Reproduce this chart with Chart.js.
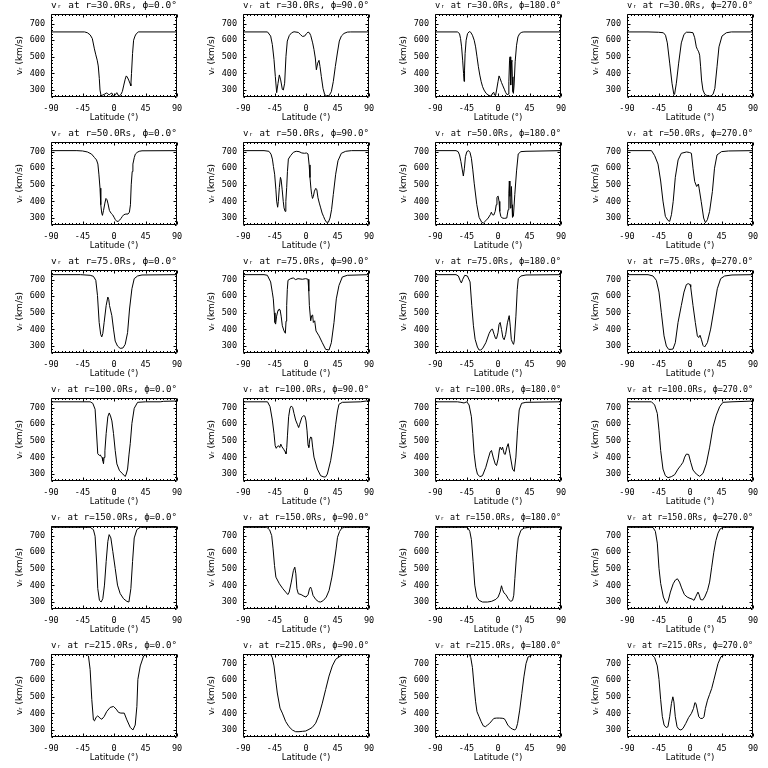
<!DOCTYPE html>
<html><head><meta charset="utf-8">
<script src="https://cdn.jsdelivr.net/npm/chart.js@4"></script>
<style>
html,body{margin:0;padding:0;background:#fff;width:768px;height:768px;overflow:hidden}
#wrap{position:relative;width:768px;height:768px;background:#fff}
canvas{position:absolute}
</style></head><body><div id="wrap"></div>
<script>
// ---- labels / ticks ----
const radii = [30, 50, 75, 100, 150, 215];
const phis = [0, 90, 180, 270];
const xTicks = [-90, -45, 0, 45, 90];
const yTicks = [300, 400, 500, 600, 700];
const yMin = 258, yMax = 758;

// ---- r = 30 Rs ----
const lat_r30_p0 = [-90,-42,-38,-34,-31,-28,-26,-24,-22.5,-21,-20,-18.5,-16,-13,-11,-9,-7,-5,-3,-1.5,0,2,4,6,8,10,12,14,16,17.5,19,21,23,24,25,26.5,28,30,32,35,90];
const v_r30_p0   = [650,650,645,632,610,548,512,480,445,370,300,266,270,276,282,279,270,278,282,266,263,272,284,268,266,274,292,330,365,385,378,360,338,325,400,520,600,625,640,650,650];
const lat_r30_p90 = [-90,-55,-50.5,-48.1,-45.7,-43.8,-41.9,-40,-38.1,-36.2,-33.8,-32.4,-30.5,-28.6,-26.7,-23.8,-20.5,-17.1,-11,-7.6,-5.2,-1.9,0.5,2.9,4.8,6.7,9.5,11.4,13.3,14.8,16.7,18.6,20,21.9,24.3,26.7,29.5,32.9,36.2,39,41.9,44.8,47.6,50.5,54.3,59,63.8,90];
const v_r30_p90   = [650,650,625,574,483,381,284,340,391,361,304,300,341,503,595,629,645,651,647,633,623,625,639,649,645,629,584,544,493,422,462,479,442,381,310,272,265,265,290,351,442,523,595,625,641,649,650,650];
const lat_r30_p180 = [-90,-58,-55,-53.5,-52,-50.5,-49.2,-48.5,-47.8,-47,-45.5,-43.5,-41,-39,-36.5,-34,-32,-30,-28,-26,-24,-22,-20,-17,-14,-11,-9,-7.5,-6,-5,-3.5,-2,0,1.5,3,5,7,9,11,13,14.5,15.5,16.5,17.2,17.8,18.5,19.3,19.8,20.5,21.3,22,23,24.5,26.5,28.5,31,34,37,90];
const v_r30_p180   = [650,650,640,610,560,480,400,352,420,520,600,640,652,648,630,600,560,500,440,390,350,320,300,280,270,264,270,282,286,270,267,300,350,385,370,345,325,305,285,272,275,350,480,500,420,330,470,480,380,290,280,330,470,570,620,640,648,650,650];
const lat_r30_p270 = [-90,-60,-45,-38,-35,-32.4,-29,-25.7,-23,-22,-19.5,-16.2,-12.4,-8.6,-5.2,0,4.3,6.7,9,10.5,12.4,13.8,15.2,16.5,18.5,21,24,27,30,33,35.5,38.6,41.4,45.7,51.9,59,90];
const v_r30_p270   = [650,650,648,645,630,584,462,341,272,275,341,462,584,635,648,648,645,615,560,545,530,510,440,360,300,275,267,263,264,275,310,440,560,625,645,650,650];

// ---- r = 50 Rs ----
const lat_r50_p0 = [-90,-53,-45,-38,-32,-28,-25,-23,-21.5,-20,-18.9,-17.5,-16.5,-15,-13,-11.5,-10,-8.5,-6.5,-4,-2,0,2,4,6,8,10,12,14,17,20,22,23.5,24.6,26,27,29,30.5,33,36,40,90];
const v_r50_p0   = [706,706,704,698,685,665,650,625,560,480,380,330,316,345,390,418,410,385,345,328,320,305,290,280,280,287,298,310,320,324,324,335,380,500,580,625,665,685,695,702,705,706];
const lat_r50_p90 = [-90,-60,-53,-50,-48,-46.5,-44.8,-43,-41.9,-40.5,-39.5,-38.1,-36.5,-35.5,-34,-32.5,-31.4,-29.8,-28.8,-27.6,-26.5,-25.2,-22,-18,-14,-10,-6,-2,0.5,2.9,4.5,5.7,7,8.1,9.3,10.5,12,14,15.5,17.1,19,21,23,25,27,29.5,32,34.3,36.5,39,42.4,45.7,50.5,56.7,65,90];
const v_r50_p90   = [706,706,702,685,655,610,564,470,402,365,400,483,545,530,470,400,361,340,400,483,580,655,676,696,702,700,692,690,692,686,620,544,480,442,418,430,462,479,470,422,390,361,330,310,290,274,275,300,350,442,564,645,690,702,706,706];
const lat_r50_p180 = [-90,-60,-57,-55,-53,-51,-49.5,-48,-46.5,-44.5,-42,-40,-38,-36,-34,-30.3,-27,-23.2,-20.8,-17.4,-14,-11,-9.5,-8,-6,-4,-2.5,-1.5,0.2,1.5,2.5,4,6,9,12.5,14.5,15.5,16.2,17,17.6,18.5,19.2,20,20.7,22,24,26.5,28.9,32.7,40,90];
const v_r50_p180   = [706,706,700,680,640,590,553,600,670,700,706,695,660,590,510,381,304,274,270,284,300,320,335,320,318,340,380,425,432,400,340,310,300,298,300,350,450,523,430,360,420,490,380,305,310,442,584,686,700,702,706];
const lat_r50_p270 = [-90,-55,-50.5,-45.7,-41.9,-38.6,-35.2,-31.4,-29,-26.5,-24,-21,-17,-12.4,-5,-1,2,4.3,6.7,9.5,12,13,16,19.5,22,24.8,28,32,35,38.6,45,55,90];
const v_r50_p270   = [706,706,676,625,523,402,310,285,280,320,400,545,650,690,698,695,690,600,520,490,505,480,400,300,272,290,340,460,600,680,700,704,706];

// ---- r = 75 Rs ----
const lat_r75_p0 = [-90,-48,-34,-29.4,-26,-23.6,-21.2,-19,-17.5,-16,-14.1,-11.2,-8.8,-7.5,-6.4,-3.1,-0.7,1.7,5,8.8,12.7,16,19.4,22.2,25.6,28.9,33.7,40,90];
const v_r75_p0   = [730,730,726,720,696,605,442,370,355,375,442,544,595,580,544,483,402,330,300,286,288,310,381,523,645,706,722,728,730];
const lat_r75_p90 = [-90,-60,-55.2,-50.5,-48,-46.7,-45.3,-44.3,-43.4,-42,-40,-38.6,-37,-35.5,-33.8,-31.4,-29.5,-28.5,-27.6,-26.7,-25.7,-21.9,-18.1,-14.8,-11.4,-5.2,-0.5,2.9,4,4.8,6.7,8.1,9.5,10.5,12.4,14.3,18.6,23.3,28.1,32.9,36.2,40,43.3,47.1,51.9,59,90];
const v_r75_p90   = [730,730,726,686,620,584,500,442,432,480,515,523,518,480,422,391,377,450,544,640,696,706,710,700,706,702,706,702,630,544,452,483,487,442,452,391,361,320,280,276,320,442,584,665,716,726,730];
const lat_r75_p180 = [-90,-60,-56.6,-54.2,-52.3,-50.4,-47.5,-43.7,-39.9,-37.5,-35.1,-32.7,-29.4,-27,-25,-22.2,-17.4,-12.6,-9.5,-7.9,-5.5,-3.5,-2.1,0,1.5,3.1,5,7,8.8,11,13.5,16,17.5,19,20.8,22.2,23.2,25.6,27.5,29,32.7,40,90];
const v_r75_p180   = [730,730,722,696,680,702,726,722,686,544,422,341,294,276,276,284,320,377,400,402,370,345,345,380,430,442,400,350,338,370,440,483,420,340,320,310,330,480,640,706,722,728,730];
const lat_r75_p270 = [-90,-60,-52.9,-48.1,-44.3,-41,-37.1,-33.8,-30.5,-27,-24.3,-21,-17.1,-12.4,-8.6,-5.2,-2.5,0,1,4.3,7.6,10.5,12.4,14.3,16.2,18.6,20.9,24.8,29.5,34.3,39,43.8,49.5,60,90];
const v_r75_p270   = [730,730,722,696,625,503,361,300,280,280,282,320,442,544,625,670,676,670,655,544,442,361,351,365,341,304,294,320,402,523,645,706,722,728,730];

// ---- r = 100 Rs ----
const lat_r100_p0 = [-90,-34,-30.3,-27,-24.6,-23.2,-21,-19.5,-18.4,-17,-16,-15,-14.2,-13,-11.2,-8.8,-6.8,-5,-3,-0.7,1.7,4.1,7.9,12.7,16,17.5,19.4,21.5,23.2,25.6,28.9,33.7,45,66,71,90];
const v_r100_p0   = [735,735,726,690,523,422,412,415,405,400,380,362,400,440,544,645,668,650,620,544,442,361,320,300,285,300,330,420,483,605,696,732,735,735,738,740];
const lat_r100_p90 = [-90,-55,-51.4,-48.1,-45.7,-44,-42.5,-41,-39,-37.5,-36,-34.5,-32,-30,-28.6,-27.5,-26.5,-24.8,-22.9,-21,-19,-17.1,-14.8,-12.4,-10.5,-9,-6,-3.5,-1.5,0,1.5,2.9,4,5.5,6.7,8,9.5,11.4,16.2,20.9,25.7,28,30.5,35.2,39,42.4,45,47.1,51.9,78,90];
const v_r100_p90   = [735,735,706,625,544,470,455,466,470,460,480,465,450,435,422,460,530,645,696,710,700,665,625,600,580,600,640,652,648,620,560,475,460,510,523,520,462,402,330,290,282,283,300,380,480,600,680,720,732,735,742];
const lat_r100_p180 = [-90,-58,-53,-48.5,-44.6,-41.3,-38,-36.1,-34.1,-31.7,-29.4,-26,-22.2,-17.4,-14.1,-11.2,-9.3,-6.9,-4,-2.1,0.2,2.2,3.1,5,6.5,8.8,10.3,12.7,14.6,17,20.8,23.2,25.6,27.9,30.3,33.7,39.9,90];
const v_r100_p180   = [735,735,732,728,735,716,645,544,422,341,300,284,290,341,391,432,442,402,361,351,391,452,462,446,462,422,418,462,483,422,330,316,402,564,686,726,732,735];
const lat_r100_p270 = [-90,-55,-50.5,-46.7,-44.3,-41.9,-38.6,-35.2,-31.4,-26.7,-21.9,-17.1,-13.3,-10,-7.6,-5.2,-1.9,1,4.3,9,13.8,18.6,23.3,28.1,32.9,37.6,42.4,47.1,60,80,90];
const v_r100_p270   = [735,735,716,665,564,442,330,290,278,284,296,330,351,371,402,420,418,371,324,300,286,304,361,462,584,655,706,732,735,738,740];

// ---- r = 150 Rs ----
const lat_r150_p0 = [-90,-34,-29.4,-27,-24.6,-23.2,-20.8,-18.4,-16,-13.6,-11.2,-8.8,-6.9,-4.5,-1.7,1.7,5,8.8,13.6,18.4,21.3,24.1,26.5,28.9,32.7,37.5,90];
const v_r150_p0   = [750,750,736,696,523,381,310,300,320,402,544,665,706,686,605,503,402,351,320,304,300,381,544,686,736,750,750];
const lat_r150_p90 = [-90,-56,-52,-49,-47,-45,-43,-38,-33,-29,-26,-24,-21,-18,-16,-14.5,-13,-11,-7,-3,0,3,5,6.5,8,10,14,18,21,25,29,33,37,40,43,45,48,51,55,90];
const v_r150_p90   = [750,750,735,700,620,520,450,410,380,360,345,360,420,490,510,470,380,350,345,335,330,345,380,390,375,340,315,302,300,310,330,370,450,530,620,690,725,745,750,750];
const lat_r150_p180 = [-90,-43.7,-40.3,-38,-35.6,-33.2,-30.3,-27,-22.2,-15,-9.3,-3.1,0.2,3,5,6.5,8.5,11.2,14.6,18,20.8,22.5,24.1,26.5,28.9,32.7,37.5,45,90];
const v_r150_p180   = [750,750,726,676,544,402,330,310,300,300,304,316,330,360,398,375,355,345,320,304,310,341,442,584,686,732,746,750,750];
const lat_r150_p270 = [-90,-53,-49.5,-46.7,-44.3,-41.9,-38,-35,-33,-31,-28,-24,-21,-18,-15,-12,-8,-4,0,3,5.7,8.5,11.4,13,15,18,21,25,28,31,34,37,40,43,47,90];
const v_r150_p270   = [750,750,726,655,503,412,330,300,292,310,360,410,432,440,420,385,345,330,322,318,310,335,360,345,315,312,330,370,420,510,600,670,715,740,750,750];

// ---- r = 215 Rs ----
const lat_r215_p0 = [-90,-39,-36.5,-34.1,-31.7,-29.4,-27.9,-25.5,-23.2,-19.8,-17.4,-14.1,-10.3,-5.5,-0.7,3.1,6.5,9.8,14.6,18.4,23.2,27,30.3,32.7,34.1,37.5,42.3,47.1,90];
const v_r215_p0   = [756,756,746,665,483,361,355,377,385,371,365,381,412,436,442,426,406,402,402,361,316,300,330,442,605,686,746,756,756];
const lat_r215_p90 = [-90,-50.5,-48.1,-45.7,-43.4,-41,-37.1,-33.8,-29,-24.3,-19.5,-14.8,-10,-5.2,-0.5,4.3,9,13.8,18.6,23.3,28.1,32.9,37.6,42.4,47.1,51.9,90];
const v_r215_p90   = [756,756,736,686,605,523,432,402,351,320,300,290,290,292,294,304,316,341,391,462,544,625,686,726,740,754,756];
const lat_r215_p180 = [-90,-41,-38.9,-36.5,-34.1,-32,-30,-27,-24,-21,-18,-15,-12,-9,-6,-2,2,6,9,11,14,18,21,24,26,28,31,34,37,40,43,47,50,90];
const v_r215_p180   = [756,756,736,676,560,470,410,380,350,325,320,330,340,355,370,372,372,371,368,355,330,312,305,300,310,340,420,520,620,700,740,750,756,756];
const lat_r215_p270 = [-90,-55,-50.5,-46.7,-44.3,-41.9,-39.5,-37,-34,-31.5,-29,-26.5,-24.5,-23,-21,-18.5,-16,-13,-10,-6,-2,2,5,7,8.5,10.5,12.5,15,18,20,22,25,28,31,34,37,40,44,48,52,90];
const v_r215_p270   = [756,756,736,686,605,483,381,330,315,320,380,460,500,470,380,320,305,300,310,340,375,400,430,465,460,420,380,370,370,380,430,480,515,550,600,650,700,740,752,756,756];

const panels = [
  [[lat_r30_p0,v_r30_p0],[lat_r30_p90,v_r30_p90],[lat_r30_p180,v_r30_p180],[lat_r30_p270,v_r30_p270]],
  [[lat_r50_p0,v_r50_p0],[lat_r50_p90,v_r50_p90],[lat_r50_p180,v_r50_p180],[lat_r50_p270,v_r50_p270]],
  [[lat_r75_p0,v_r75_p0],[lat_r75_p90,v_r75_p90],[lat_r75_p180,v_r75_p180],[lat_r75_p270,v_r75_p270]],
  [[lat_r100_p0,v_r100_p0],[lat_r100_p90,v_r100_p90],[lat_r100_p180,v_r100_p180],[lat_r100_p270,v_r100_p270]],
  [[lat_r150_p0,v_r150_p0],[lat_r150_p90,v_r150_p90],[lat_r150_p180,v_r150_p180],[lat_r150_p270,v_r150_p270]],
  [[lat_r215_p0,v_r215_p0],[lat_r215_p90,v_r215_p90],[lat_r215_p180,v_r215_p180],[lat_r215_p270,v_r215_p270]]
];

const FONT = 'DejaVu Sans';
const MONO = 'DejaVu Sans Mono';

// IDL-style frame: box on all four sides with inward major/minor ticks
const idlFrame = {
  id: 'idlFrame',
  afterDraw(chart) {
    const {ctx, chartArea: a, scales: {x, y}} = chart;
    const L = Math.round(a.left) + 0.5, R = Math.round(a.right) - 0.5;
    const T = Math.round(a.top) + 0.5, B = Math.round(a.bottom) - 0.5;
    ctx.save();
    ctx.strokeStyle = '#000';
    ctx.lineWidth = 1;
    ctx.beginPath();
    ctx.rect(L, T, R - L, B - T);
    const xt = (v, len) => {
      const p = Math.round(x.getPixelForValue(v)) + 0.5;
      ctx.moveTo(p, B); ctx.lineTo(p, B - len);
      ctx.moveTo(p, T); ctx.lineTo(p, T + len);
    };
    const yt = (v, len) => {
      const p = Math.round(y.getPixelForValue(v)) + 0.5;
      ctx.moveTo(L, p); ctx.lineTo(L + len, p);
      ctx.moveTo(R, p); ctx.lineTo(R - len, p);
    };
    for (let v = -90; v <= 90; v += 5) xt(v, xTicks.includes(v) ? 3 : 1.5);
    for (let v = 260; v <= yMax; v += 20) yt(v, yTicks.includes(v) ? 3 : 1.5);
    ctx.stroke();
    ctx.restore();
  }
};

const wrap = document.getElementById('wrap');
radii.forEach((r, ri) => {
  phis.forEach((phi, ci) => {
    const [lat, vr] = panels[ri][ci];
    const cv = document.createElement('canvas');
    cv.width = 192; cv.height = 128;
    cv.style.left = (ci * 192) + 'px';
    cv.style.top = (ri * 128) + 'px';
    wrap.appendChild(cv);
    new Chart(cv, {
      type: 'line',
      data: {
        datasets: [{
          data: lat.map((la, i) => ({x: la, y: vr[i]})),
          borderColor: '#000', borderWidth: 1, pointRadius: 0, tension: 0, fill: false
        }]
      },
      options: {
        responsive: false, animation: false, devicePixelRatio: 1,
        layout: {padding: {left: 0, right: 15, top: 0, bottom: 0}},
        plugins: {
          legend: {display: false}, tooltip: {enabled: false},
          title: {
            display: true, fullSize: false,
            text: 'v\u1D63 at r=' + r.toFixed(1) + 'Rs, \u03D5=' + phi.toFixed(1) + '\u00B0',
            color: '#000', font: {family: MONO, size: 9.5, weight: 'normal'},
            padding: {top: 0, bottom: 2.6}
          }
        },
        scales: {
          x: {
            type: 'linear', min: -90, max: 90,
            afterBuildTicks: s => { s.ticks = xTicks.map(v => ({value: v})); },
            afterFit: s => { s.height = 31; },
            grid: {display: false, drawTicks: false}, border: {display: false},
            ticks: {color: '#000', font: {family: MONO, size: 8.5}, padding: 7, maxRotation: 0, autoSkip: false},
            title: {display: true, text: 'Latitude (\u00B0)', color: '#000', font: {family: FONT, size: 8.5}, padding: {top: 0, bottom: 5}}
          },
          y: {
            type: 'linear', min: yMin, max: yMax,
            afterBuildTicks: s => { s.ticks = yTicks.map(v => ({value: v})); },
            afterFit: s => { s.width = 51; },
            grid: {display: false, drawTicks: false}, border: {display: false},
            ticks: {color: '#000', font: {family: MONO, size: 8.5}, padding: 6, autoSkip: false},
            title: {display: true, text: 'v\u1D63 (km/s)', color: '#000', font: {family: FONT, size: 9}, padding: {top: 14, bottom: 0}}
          }
        }
      },
      plugins: [idlFrame]
    });
  });
});
</script>
</body></html>
